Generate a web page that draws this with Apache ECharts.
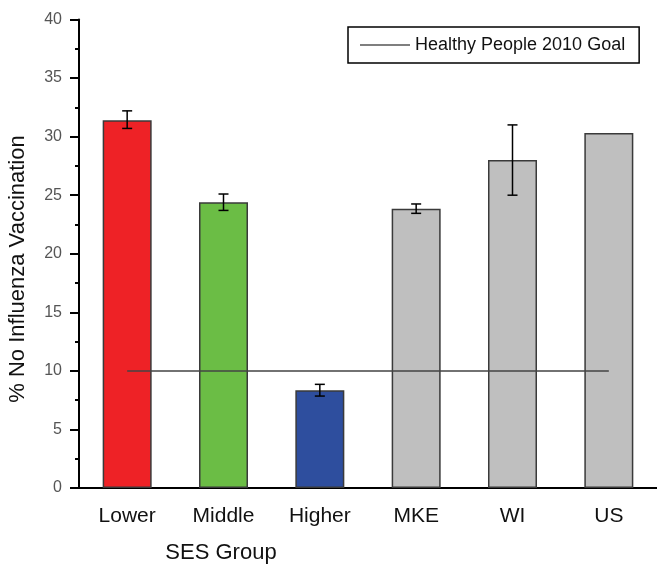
<!DOCTYPE html>
<html>
<head>
<meta charset="utf-8">
<script src="https://cdn.jsdelivr.net/npm/echarts@6/dist/echarts.min.js"></script>
<style>
  html, body { margin: 0; padding: 0; background: #fff; }
  #chart { width: 657px; height: 564px; }
</style>
</head>
<body>
<div id="chart"></div>
<script>
// SES groups and reference populations
const categories = ['Lower', 'Middle', 'Higher', 'MKE', 'WI', 'US'];
// Percent with no influenza vaccination
const values = [31.4, 24.4, 8.35, 23.85, 28.0, 30.3];
// Error bar bounds (US has none)
const errLow  = [30.7, 23.7, 7.85, 23.45, 25.0, null];
const errHigh = [32.2, 25.1, 8.85, 24.25, 31.0, null];
const barColors = ['#EE2226', '#6BBD45', '#2E4E9E', '#BFBFBF', '#BFBFBF', '#BFBFBF'];
// Healthy People 2010 target
const goalName = 'Healthy People 2010 Goal';
const goalValue = 10;
const yTicks = { min: 0, max: 40, step: 5 };

const font = '"Liberation Sans", Arial, sans-serif';

const chart = echarts.init(document.getElementById('chart'), null, { renderer: 'canvas' });

const option = {
  animation: false,
  backgroundColor: '#fff',
  grid: { left: 79, right: -2, top: 19.5, bottom: 76, containLabel: false },
  legend: {
    left: 348, top: 27,
    padding: [9, 14, 9, 12],
    borderColor: '#000', borderWidth: 1.5,
    itemWidth: 50, itemHeight: 1.5, itemGap: 5,
    textStyle: { fontFamily: font, fontSize: 18, color: '#111', lineHeight: 18 },
    data: [{ name: goalName, icon: 'rect', itemStyle: { color: '#555' } }]
  },
  xAxis: [
    {
      type: 'category', data: categories, boundaryGap: true,
      axisLine: { lineStyle: { color: '#000', width: 2 } },
      axisTick: { alignWithLabel: true, length: 10, lineStyle: { color: '#000', width: 2 } },
      axisLabel: { fontFamily: font, fontSize: 21, color: '#111', margin: 18 },
      splitLine: { show: false }
    },
    {
      type: 'category', data: categories, boundaryGap: true, position: 'bottom',
      axisLine: { show: false },
      axisTick: { interval: 0, length: 6, lineStyle: { color: '#000', width: 2 } },
      axisLabel: { show: false },
      splitLine: { show: false }
    }
  ],
  yAxis: {
    type: 'value', min: yTicks.min, max: yTicks.max, interval: yTicks.step,
    axisLine: { show: true, lineStyle: { color: '#000', width: 2 } },
    axisTick: { show: true, length: 9, lineStyle: { color: '#000', width: 2 } },
    minorTick: { show: true, splitNumber: 2, length: 4, lineStyle: { color: '#000', width: 2 } },
    axisLabel: { fontFamily: font, fontSize: 16, color: '#555', margin: 17 },
    splitLine: { show: false }
  },
  graphic: [
    {
      type: 'text', x: 18, y: 269, rotation: Math.PI / 2,
      style: { text: '% No Influenza Vaccination', fontFamily: font, fontSize: 22, fill: '#111',
               textAlign: 'center', textVerticalAlign: 'middle' }
    },
    {
      type: 'text', x: 221, y: 553,
      style: { text: 'SES Group', fontFamily: font, fontSize: 22, fill: '#111',
               textAlign: 'center', textVerticalAlign: 'middle' }
    }
  ],
  series: [
    {
      type: 'bar', barWidth: 49,
      data: values.map((v, i) => ({
        value: v,
        itemStyle: { color: barColors[i], borderColor: '#3a3a3a', borderWidth: 1.5 }
      })),
      z: 2
    },
    {
      type: 'custom', z: 4,
      data: categories.map((c, i) => [i, errLow[i], errHigh[i]]),
      renderItem: function (params, api) {
        const lo = api.value(1), hi = api.value(2);
        if (lo == null || hi == null || isNaN(lo) || isNaN(hi)) return null;
        const p1 = api.coord([api.value(0), lo]);
        const p2 = api.coord([api.value(0), hi]);
        const w = 5;
        const st = { stroke: '#000', lineWidth: 1.5 };
        return {
          type: 'group',
          children: [
            { type: 'line', shape: { x1: p1[0], y1: p1[1], x2: p2[0], y2: p2[1] }, style: st },
            { type: 'line', shape: { x1: p1[0] - w, y1: p1[1], x2: p1[0] + w, y2: p1[1] }, style: st },
            { type: 'line', shape: { x1: p2[0] - w, y1: p2[1], x2: p2[0] + w, y2: p2[1] }, style: st }
          ]
        };
      }
    },
    {
      name: goalName, type: 'line', symbol: 'none', z: 5,
      data: categories.map(() => goalValue),
      lineStyle: { color: '#444', width: 1.5 },
      itemStyle: { color: '#444' }
    }
  ]
};

chart.setOption(option);
</script>
</body>
</html>
